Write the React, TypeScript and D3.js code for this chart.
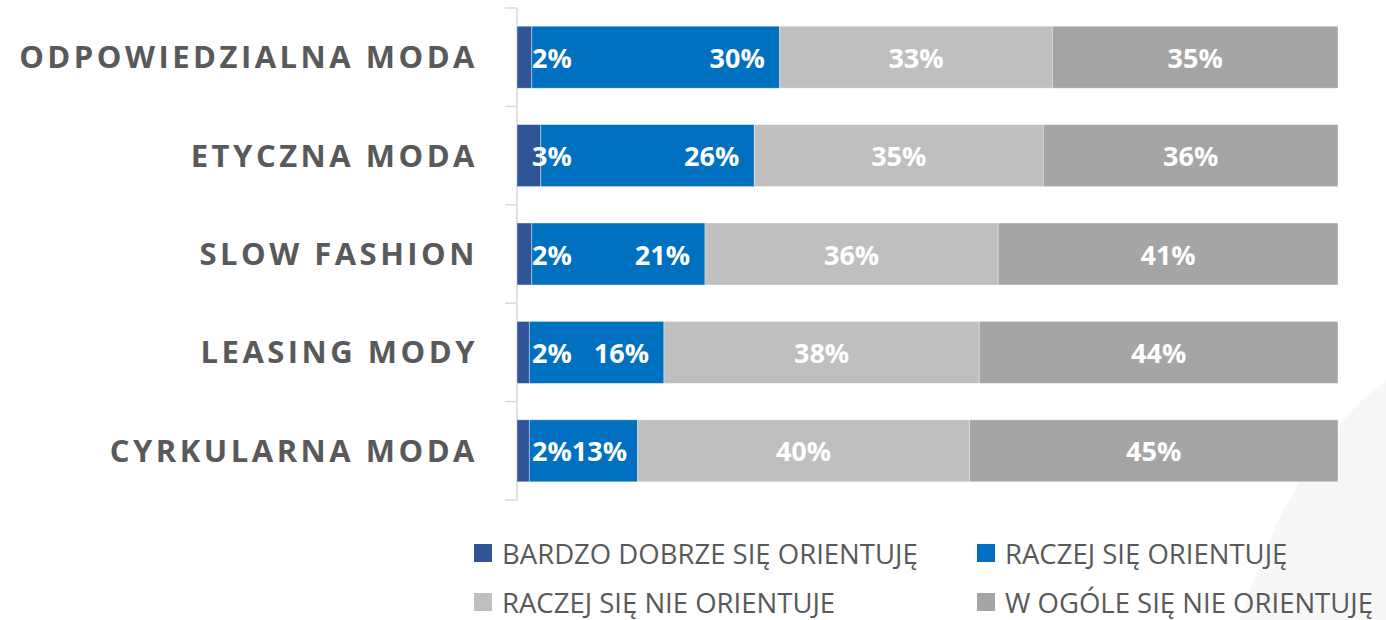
import React from 'react';
import * as d3 from 'd3';

const categories = ['ODPOWIEDZIALNA MODA', 'ETYCZNA MODA', 'SLOW FASHION', 'LEASING MODY', 'CYRKULARNA MODA'];
const seriesNames = ['BARDZO DOBRZE SIĘ ORIENTUJĘ', 'RACZEJ SIĘ ORIENTUJĘ', 'RACZEJ SIĘ NIE ORIENTUJE', 'W OGÓLE SIĘ NIE ORIENTUJĘ'];
const bardzoDobrze = [1.8, 2.9, 1.8, 1.5, 1.5];
const raczej = [30.2, 26.0, 21.1, 16.4, 13.2];
const raczejNie = [33.2, 35.2, 35.7, 38.4, 40.4];
const wOgole = [34.8, 35.9, 41.4, 43.7, 44.9];
const colors = ['#2F5597', '#0070C0', '#BFBFBF', '#A5A5A5'];

const W = 1386, H = 620;
const FONT = '"Open Sans", "Liberation Sans", sans-serif';

export default function App() {
    const rows = categories.map((c, i) => ({
        cat: c, s0: bardzoDobrze[i], s1: raczej[i], s2: raczejNie[i], s3: wOgole[i]
    }));
    const keys = ['s0', 's1', 's2', 's3'];
    const stacked = d3.stack().keys(keys)(rows as any);

    const x = d3.scaleLinear().domain([0, 100]).range([517, 1338]);
    const y = d3.scaleBand().domain(categories).range([8, 500]).paddingInner(0.37).paddingOuter(0.185);
    const boundaries = d3.range(categories.length + 1).map(i => 8 + i * (492 / categories.length));

    // background swoosh
    const swoosh = 'M1240,620 C1270,520 1320,430 1386,380 L1386,620 Z';

    return (
        <div style={{position: 'absolute', left: 0, top: 0}}>
            <svg width={W} height={H} style={{display: 'block', background: '#fff'}}>
                <path d={swoosh} fill="#F7F7F7"/>
                {/* axis */}
                <line x1={517} x2={517} y1={8} y2={500} stroke="#D9D9D9" strokeWidth={1.5}/>
                {boundaries.map((b, i) => (
                    <line key={i} x1={505} x2={517} y1={b} y2={b} stroke="#D9D9D9" strokeWidth={1.5}/>
                ))}
                {categories.map(c => (
                    <text key={c} x={478} y={(y(c) as number) + y.bandwidth() / 2 - 1}
                          textAnchor="end" dominantBaseline="central"
                          fontFamily={FONT} fontWeight={700} fontSize={31} letterSpacing={3.5}
                          fill="#595959">{c}</text>
                ))}
                {stacked.map((s, si) => (
                    <g key={si}>
                        {s.map((d: any, i) => (
                            <rect key={i} x={x(d[0])} y={y(categories[i])} width={x(d[1]) - x(d[0])}
                                  height={y.bandwidth()} fill={colors[si]} stroke="#fff" strokeOpacity={0.5} strokeWidth={0.75}/>
                        ))}
                    </g>
                ))}
                {stacked.map((s, si) => (
                    <g key={'l' + si}>
                        {s.map((d: any, i) => {
                            const v = d[1] - d[0];
                            const cy = (y(categories[i]) as number) + y.bandwidth() / 2;
                            let tx = (x(d[0]) + x(d[1])) / 2, anchor = 'middle';
                            if (si === 0) { tx = x(0) + 15; anchor = 'start'; }
                            if (si === 1) { tx = Math.max(x(d[1]) - 15, x(0) + 110); anchor = 'end'; }
                            return (
                                <text key={i} x={tx} y={cy} textAnchor={anchor} dominantBaseline="central"
                                      fontFamily={FONT} fontWeight={700} fontSize={27} fill="#fff">
                                    {Math.round(v)}%
                                </text>
                            );
                        })}
                    </g>
                ))}
                {/* legend */}
                {seriesNames.map((n, i) => {
                    const lx = i % 2 === 0 ? 474 : 977;
                    const ly = i < 2 ? 553 : 602;
                    return (
                        <g key={n}>
                            <rect x={lx} y={ly - 9} width={18} height={18} fill={colors[i]}/>
                            <text x={lx + 28} y={ly} dominantBaseline="central" fontFamily={FONT}
                                  fontSize={27.5} fill="#595959">{n}</text>
                        </g>
                    );
                })}
            </svg>
        </div>
    );
}
